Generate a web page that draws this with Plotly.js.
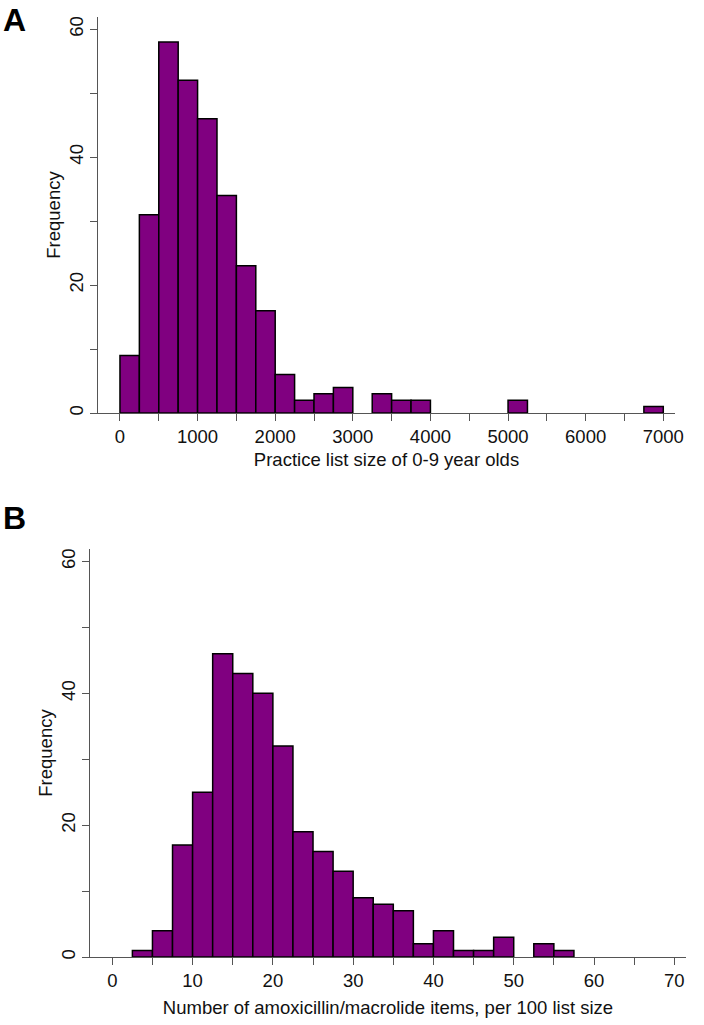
<!DOCTYPE html>
<html>
<head>
<meta charset="utf-8">
<script src="https://cdn.plot.ly/plotly-3.0.1.min.js"></script>
<style>
  html, body { margin: 0; padding: 0; background: #fff; }
  #plot { width: 704px; height: 1025px; }
</style>
</head>
<body>
<div id="plot"></div>
<script>
// Panel A: practice list size of 0-9 year olds (bins of 250)
const binStartA = [0, 250, 500, 750, 1000, 1250, 1500, 1750, 2000, 2250, 2500, 2750, 3250, 3500, 3750, 5000, 6750];
const countsA   = [9, 31, 58, 52, 46, 34, 23, 16, 6, 2, 3, 4, 3, 2, 2, 2, 1];
const binWidthA = 250;

// Panel B: amoxicillin/macrolide items per 100 list size (bins of 2.5)
const binStartB = [2.5, 5, 7.5, 10, 12.5, 15, 17.5, 20, 22.5, 25, 27.5, 30, 32.5, 35, 37.5, 40, 42.5, 45, 47.5, 52.5, 55];
const countsB   = [1, 4, 17, 25, 46, 43, 40, 32, 19, 16, 13, 9, 8, 7, 2, 4, 1, 1, 3, 2, 1];
const binWidthB = 2.5;

// Ticks
const xTicksA = [0, 500, 1000, 1500, 2000, 2500, 3000, 3500, 4000, 4500, 5000, 5500, 6000, 6500, 7000];
const xTickTextA = ['0', '', '1000', '', '2000', '', '3000', '', '4000', '', '5000', '', '6000', '', '7000'];
const xTicksB = [0, 5, 10, 15, 20, 25, 30, 35, 40, 45, 50, 55, 60, 65, 70];
const xTickTextB = ['0', '', '10', '', '20', '', '30', '', '40', '', '50', '', '60', '', '70'];
const yTicks = [0, 10, 20, 30, 40, 50, 60];
const yTickText = ['0', '', '20', '', '40', '', '60'];

const fill = '#800080';
const font = 'Liberation Sans, Arial, sans-serif';
const axisColor = '#555';

const barA = {
  type: 'bar', x: binStartA, y: countsA, offset: 0, width: binWidthA,
  marker: { color: fill, line: { color: '#000', width: 1.5 } },
  xaxis: 'x', yaxis: 'y', hoverinfo: 'x+y'
};
const barB = {
  type: 'bar', x: binStartB, y: countsB, offset: 0, width: binWidthB,
  marker: { color: fill, line: { color: '#000', width: 1.5 } },
  xaxis: 'x2', yaxis: 'y2', hoverinfo: 'x+y'
};

function xAxis(domain, range, vals, text, title, anchor, standoff) {
  return {
    domain: domain, range: range, anchor: anchor,
    tickmode: 'array', tickvals: vals, ticktext: text,
    ticks: 'outside', ticklen: 7, tickcolor: axisColor, tickwidth: 1,
    showline: true, linecolor: axisColor, linewidth: 1,
    showgrid: false, zeroline: false,
    tickfont: { family: font, size: 18.5, color: '#111' },
    title: { text: title, font: { family: font, size: 18.5, color: '#111' }, standoff: standoff }
  };
}
function yAxis(domain, anchor) {
  return {
    domain: domain, range: [0, 61.9], anchor: anchor,
    tickmode: 'array', tickvals: yTicks, ticktext: yTickText, tickangle: -90,
    ticks: 'outside', ticklen: 7, tickcolor: axisColor, tickwidth: 1,
    ticklabelstandoff: 0,
    showline: true, linecolor: axisColor, linewidth: 1,
    showgrid: false, zeroline: false,
    tickfont: { family: font, size: 18.5, color: '#111' },
    title: { text: 'Frequency', font: { family: font, size: 18.5, color: '#111' }, standoff: 0 }
  };
}

const layout = {
  width: 704, height: 1025,
  margin: { l: 0, r: 0, t: 0, b: 0 },
  paper_bgcolor: '#fff', plot_bgcolor: '#fff',
  showlegend: false, bargap: 0,
  xaxis: xAxis([98 / 704, 675 / 704], [-283, 7151], xTicksA, xTickTextA, 'Practice list size of 0-9 year olds', 'y', 6),
  yaxis: yAxis([(1025 - 413) / 1025, (1025 - 17) / 1025], 'x'),
  xaxis2: xAxis([90 / 704, 686 / 704], [-2.78, 71.46], xTicksB, xTickTextB, 'Number of amoxicillin/macrolide items, per 100 list size', 'y2', 10),
  yaxis2: yAxis([(1025 - 957) / 1025, (1025 - 549) / 1025], 'x2'),
  annotations: [
    { text: '<b>A</b>', x: 0, y: 1, xref: 'paper', yref: 'paper', xanchor: 'left', yanchor: 'top',
      xshift: 1, yshift: 0, showarrow: false, font: { family: font, size: 32, color: '#000' } },
    { text: '<b>B</b>', x: 0, y: (1025 - 500) / 1025, xref: 'paper', yref: 'paper', xanchor: 'left', yanchor: 'top',
      xshift: 1, yshift: 2, showarrow: false, font: { family: font, size: 32, color: '#000' } }
  ]
};

Plotly.newPlot('plot', [barA, barB], layout, { displayModeBar: false, staticPlot: true });
</script>
</body>
</html>
